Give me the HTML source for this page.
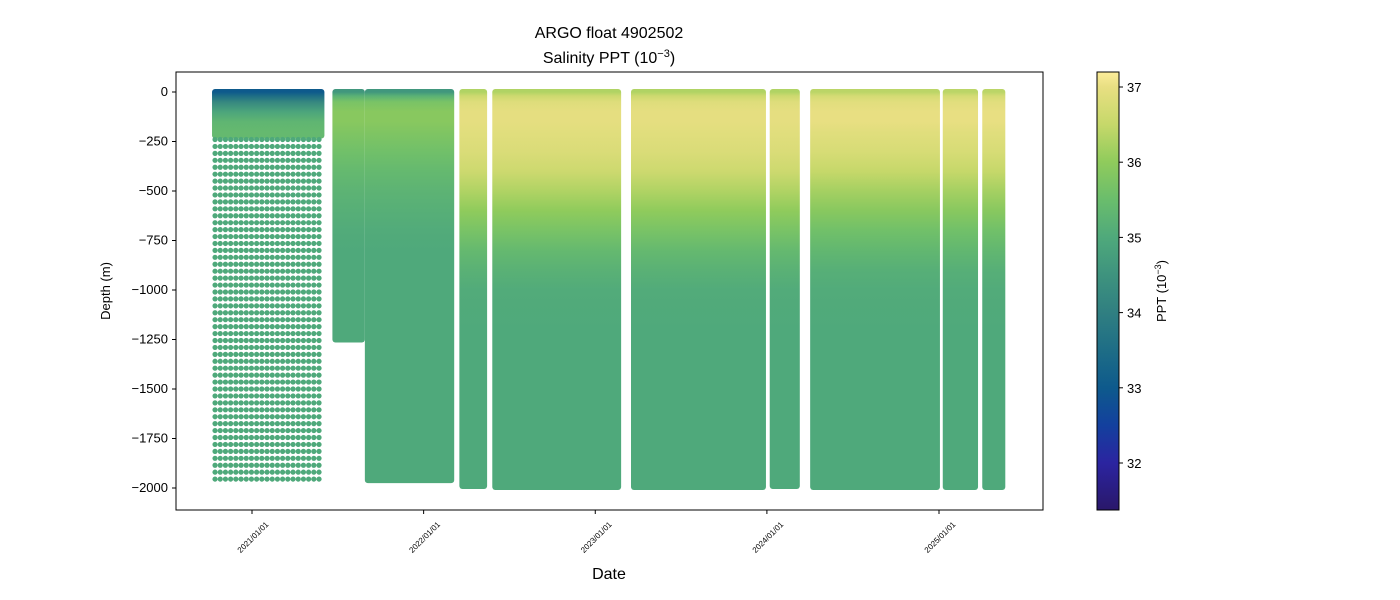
<!DOCTYPE html>
<html><head><meta charset="utf-8"><style>
body{margin:0;background:#fff}
svg{display:block;font-family:"Liberation Sans",sans-serif}
</style></head><body>
<svg id="chart" width="1400" height="600" xmlns="http://www.w3.org/2000/svg">
<defs id="defs"></defs>
<text x="609" y="38" text-anchor="middle" font-size="16">ARGO float 4902502</text>
<text x="609" y="63" text-anchor="middle" font-size="16">Salinity PPT (10<tspan baseline-shift="super" font-size="11">−3</tspan>)</text>
<g id="plot"></g>
<rect x="176" y="72" width="867" height="438" fill="none" stroke="#000" stroke-width="1"/>
<g id="yaxis"></g>
<g id="xaxis"></g>
<text x="609" y="579" text-anchor="middle" font-size="16">Date</text>
<text transform="translate(110,291) rotate(-90)" text-anchor="middle" font-size="13">Depth (m)</text>
<g id="cbar"></g>
<text transform="translate(1166,291) rotate(-90)" text-anchor="middle" font-size="13">PPT (10<tspan baseline-shift="super" font-size="9">−3</tspan>)</text>
</svg>
<script>
// ---- data ----
const depthLevels = [0,20,50,100,150,200,300,400,500,600,700,800,900,1000,1200,1500,2000];
const salFresh = [33.0,33.5,34.2,34.9,35.3,35.4,35.3,35.2,35.1,35.05,35.0,35.0,35.0,35.0,35.0,35.0,34.95];
const salMid   = [34.6,35.2,35.7,35.9,35.9,35.8,35.6,35.4,35.25,35.15,35.05,35.0,35.0,35.0,35.0,35.0,34.95];
const salSalty = [36.3,36.6,36.85,36.95,36.95,36.9,36.8,36.6,36.3,36.0,35.7,35.4,35.2,35.05,35.0,35.0,34.95];
const salSalty2= [36.4,36.7,36.9,37.0,37.0,36.9,36.75,36.5,36.2,35.9,35.6,35.35,35.15,35.05,35.0,35.0,34.95];
const segStart = ["2020-10-08","2021-06-21","2021-08-29","2022-03-18","2022-05-27","2023-03-18","2024-01-07","2024-04-02","2025-01-09","2025-04-03"];
const segEnd   = ["2021-06-04","2021-08-29","2022-03-07","2022-05-16","2023-02-25","2023-12-30","2024-03-11","2025-01-03","2025-03-25","2025-05-22"];
const segMaxDepth = [1980,1250,1960,1990,1995,1995,1990,1995,1995,1995];
const segProfile = ["fresh","mid","mid","salty","salty","salty","salty","salty2","salty2","salty2"];
const segDotted = [true,false,false,false,false,false,false,false,false,false];
const yTicks = [0,-250,-500,-750,-1000,-1250,-1500,-1750,-2000];
const xTickLabels = ["2021/01/01","2022/01/01","2023/01/01","2024/01/01","2025/01/01"];
const cbarTicks = [32,33,34,35,36,37];
const cmapVals = [31.4,32.0,32.5,33.0,33.5,34.0,34.5,35.0,35.5,36.0,36.5,37.0,37.2];
const cmapCols = ["#2a186c","#2b24a0","#13409e","#0e5a8c","#1e6d86","#307f81","#3e937e","#4fa97b","#6abd6c","#8fcb5c","#c6d86a","#e8df82","#fcec9a"];

// ---- scales ----
const NS="http://www.w3.org/2000/svg";
const t0=Date.parse("2021-01-01"), t1=Date.parse("2025-01-01");
function xs(d){return 252+(Date.parse(d)-t0)/(t1-t0)*687;}
function ys(v){return 92+(-v)*(396/2000);}
function cs(s){return 87+(37-s)*75.2;}
function col(s){
  if(s<=cmapVals[0])return cmapCols[0];
  for(let i=1;i<cmapVals.length;i++){if(s<=cmapVals[i]){
    const f=(s-cmapVals[i-1])/(cmapVals[i]-cmapVals[i-1]);
    const a=cmapCols[i-1],b=cmapCols[i];
    const c=[1,3,5].map(k=>Math.round(parseInt(a.substr(k,2),16)*(1-f)+parseInt(b.substr(k,2),16)*f));
    return "rgb("+c.join(",")+")";}}
  return cmapCols[cmapCols.length-1];
}
function mk(tag,attrs,parent){const e=document.createElementNS(NS,tag);for(const k in attrs)e.setAttribute(k,attrs[k]);parent.appendChild(e);return e;}
const defs=document.getElementById("defs"),plot=document.getElementById("plot");
const profiles={fresh:salFresh,mid:salMid,salty:salSalty,salty2:salSalty2};

segStart.forEach((s,i)=>{
  const x0=xs(s),x1=xs(segEnd[i]);
  const prof=profiles[segProfile[i]];
  const bottom=segDotted[i]?220:segMaxDepth[i];
  const gid="g"+i;
  const g=mk("linearGradient",{id:gid,x1:0,y1:ys(0)-3,x2:0,y2:ys(-bottom),gradientUnits:"userSpaceOnUse"},defs);
  depthLevels.forEach((d,j)=>{ if(d<=bottom){
    mk("stop",{offset:(ys(-d)-(ys(0)-3))/(ys(-bottom)-(ys(0)-3)),"stop-color":col(prof[j])},g);}});
  const r=mk("rect",{x:x0,y:ys(0)-3,width:x1-x0,height:ys(-bottom)-ys(0)+6,rx:3,fill:"url(#"+gid+")"},plot);
  
  
  if(segDotted[i]){
    const dg=mk("g",{fill:col(35.0)},plot);
    
    
    for(let x=x0+3;x<=x1-3;x+=5.2){
      for(let d=240;d<=segMaxDepth[i];d+=35){
        mk("circle",{cx:x,cy:ys(-d),r:2.6},dg);
      }
    }
  }
});

// y axis
const ya=document.getElementById("yaxis");
yTicks.forEach(v=>{
  const y=ys(v);
  mk("line",{x1:172,x2:176,y1:y,y2:y,stroke:"#000"},ya);
  const t=mk("text",{x:168,y:y+4,"text-anchor":"end","font-size":13},ya);
  t.textContent=v===0?"0":"−"+(-v);
  
  
});
// x axis
const xa=document.getElementById("xaxis");
xTickLabels.forEach(l=>{
  const x=xs(l.replace(/\//g,"-"));
  mk("line",{x1:x,x2:x,y1:510,y2:514,stroke:"#000"},xa);
  const t=mk("text",{transform:"translate("+(x+17)+",525) rotate(-45)","text-anchor":"end","font-size":8},xa);
  t.textContent=l;
  
  
});
// colorbar
const cb=document.getElementById("cbar");
const cg=mk("linearGradient",{id:"cbg",x1:0,y1:72,x2:0,y2:510,gradientUnits:"userSpaceOnUse"},defs);
for(let i=cmapVals.length-1;i>=0;i--){
  mk("stop",{offset:Math.max(0,Math.min(1,(cs(cmapVals[i])-72)/438)),"stop-color":cmapCols[i]},cg);
}
mk("rect",{x:1097,y:72,width:22,height:438,fill:"url(#cbg)",stroke:"#000","stroke-width":1},cb);
cbarTicks.forEach(v=>{
  const y=cs(v);
  mk("line",{x1:1119,x2:1123,y1:y,y2:y,stroke:"#000"},cb);
  const t=mk("text",{x:1127,y:y+5,"font-size":13},cb);
  t.textContent=v;
  
  
});
</script>
</body></html>
